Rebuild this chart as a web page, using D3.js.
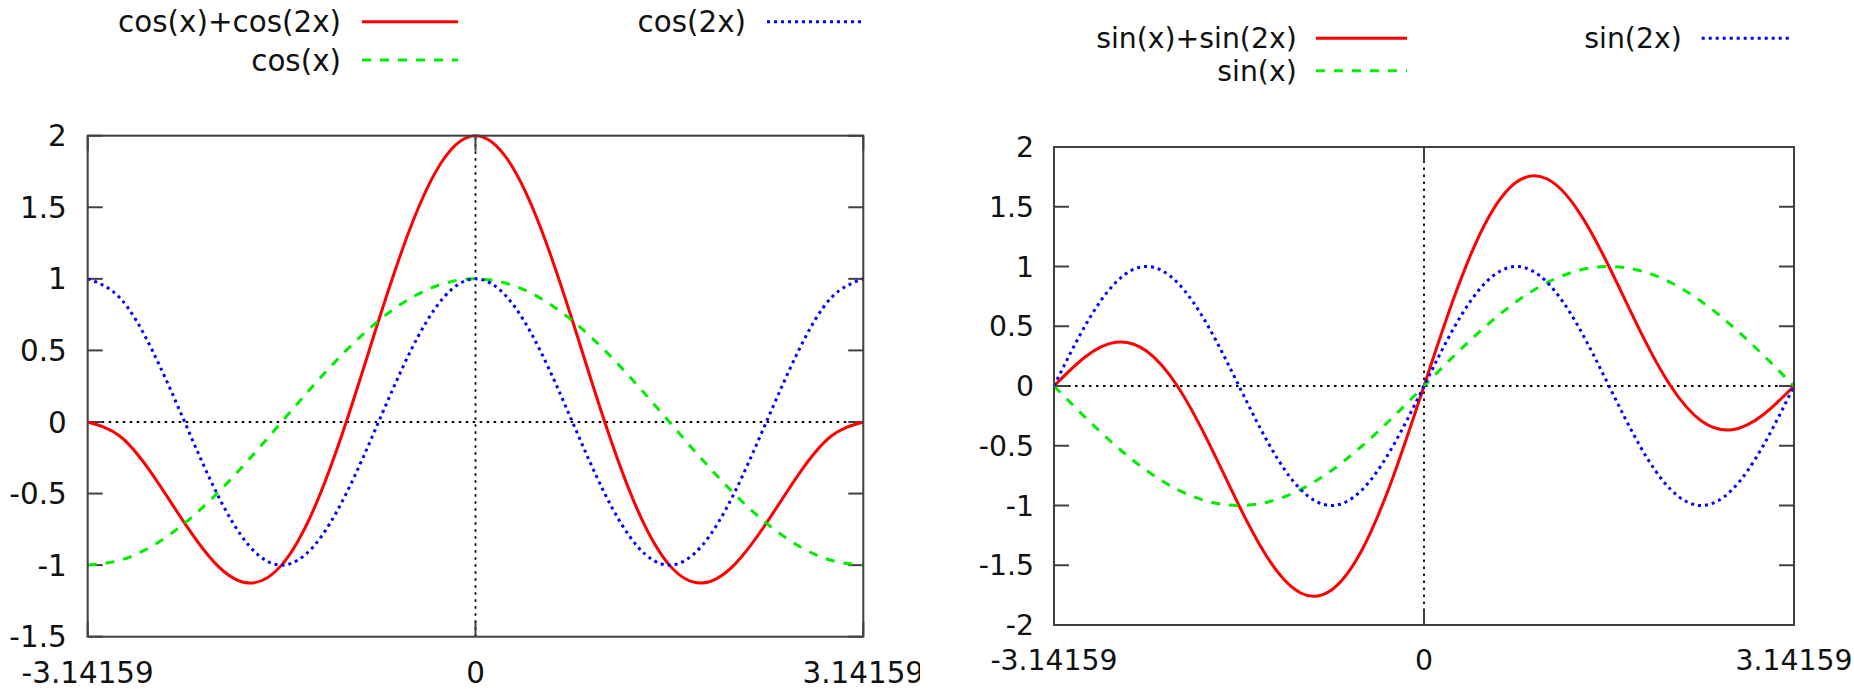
<!DOCTYPE html>
<html>
<head>
<meta charset="utf-8">
<script src="https://cdnjs.cloudflare.com/ajax/libs/d3/7.8.5/d3.min.js"></script>
<style>
body { margin: 0; background: #fff; }
svg { display: block; font-family: "DejaVu Sans", sans-serif; }
.box, .tick-mark { stroke: #404040; stroke-width: 2; fill: none; }
.zero { stroke: #000; stroke-width: 1.8; stroke-dasharray: 2.5,4.5; fill: none; }
.line { fill: none; stroke-width: 3; stroke-linejoin: round; }
.line0 { stroke: #ff0000; }
.line1 { stroke: #00ee00; stroke-dasharray: 9,9; }
.line2 { stroke: #0000ff; stroke-dasharray: 3,4; }
text { fill: #111; }
</style>
</head>
<body>
<svg id="plots" width="1854" height="689"></svg>
<script>
// DATA
// x samples, -pi..pi every 15 degrees
var xs = [-3.14159, -2.87979, -2.61799, -2.35619, -2.0944, -1.8326, -1.5708, -1.309, -1.0472, -0.7854, -0.5236, -0.2618, 0,
          0.2618, 0.5236, 0.7854, 1.0472, 1.309, 1.5708, 1.8326, 2.0944, 2.35619, 2.61799, 2.87979, 3.14159];

var cos_sum = [0, -0.1, -0.366, -0.707, -1, -1.125, -1, -0.607, 0, 0.707, 1.366, 1.832, 2,
               1.832, 1.366, 0.707, 0, -0.607, -1, -1.125, -1, -0.707, -0.366, -0.1, 0];
var cos_1x = [-1, -0.966, -0.866, -0.707, -0.5, -0.259, 0, 0.259, 0.5, 0.707, 0.866, 0.966, 1,
              0.966, 0.866, 0.707, 0.5, 0.259, 0, -0.259, -0.5, -0.707, -0.866, -0.966, -1];
var cos_2x = [1, 0.866, 0.5, 0, -0.5, -0.866, -1, -0.866, -0.5, 0, 0.5, 0.866, 1,
              0.866, 0.5, 0, -0.5, -0.866, -1, -0.866, -0.5, 0, 0.5, 0.866, 1];

var sin_sum = [0, 0.241, 0.366, 0.293, 0, -0.466, -1, -1.466, -1.732, -1.707, -1.366, -0.759, 0,
               0.759, 1.366, 1.707, 1.732, 1.466, 1, 0.466, 0, -0.293, -0.366, -0.241, 0];
var sin_1x = [0, -0.259, -0.5, -0.707, -0.866, -0.966, -1, -0.966, -0.866, -0.707, -0.5, -0.259, 0,
              0.259, 0.5, 0.707, 0.866, 0.966, 1, 0.966, 0.866, 0.707, 0.5, 0.259, 0];
var sin_2x = [0, 0.5, 0.866, 1, 0.866, 0.5, 0, -0.5, -0.866, -1, -0.866, -0.5, 0,
              0.5, 0.866, 1, 0.866, 0.5, 0, -0.5, -0.866, -1, -0.866, -0.5, 0];

var cos_labels = ['cos(x)+cos(2x)', 'cos(x)', 'cos(2x)'];
var sin_labels = ['sin(x)+sin(2x)', 'sin(x)', 'sin(2x)'];

var x_ticks = [-3.14159, 0, 3.14159];
var x_tick_labels = ['-3.14159', '0', '3.14159'];
var cos_y_ticks = [-1.5, -1, -0.5, 0, 0.5, 1, 1.5, 2];
var sin_y_ticks = [-2, -1.5, -1, -0.5, 0, 0.5, 1, 1.5, 2];

// CHART
var chrt = {
    svg: d3.select('svg#plots'),
    build_panel: function(cfg) {
        var svg = this.svg.append('g');
        if ( cfg.clip != null )
        {
            this.svg.append('clipPath').attr('id', cfg.id + '-clip')
                .append('rect').attr('x', 0).attr('y', 0).attr('width', cfg.clip).attr('height', 689);
            svg.attr('clip-path', 'url(#' + cfg.id + '-clip)');
        }
        var x = d3.scaleLinear().domain([-3.14159, 3.14159]).range([cfg.left, cfg.right]);
        var y = d3.scaleLinear().domain(cfg.y_domain).range([cfg.bottom, cfg.top]);
        var tl = 15;

        // zero axes, dotted
        svg.append('line').attr('class', 'zero')
            .attr('x1', x(-3.14159)).attr('x2', x(3.14159)).attr('y1', y(0)).attr('y2', y(0));
        svg.append('line').attr('class', 'zero')
            .attr('x1', x(0)).attr('x2', x(0)).attr('y1', y(cfg.y_domain[0])).attr('y2', y(cfg.y_domain[1]));

        // y ticks on both sides, pointing in
        cfg.y_ticks.forEach(function(t) {
            svg.append('line').attr('class', 'tick-mark')
                .attr('x1', x(-3.14159)).attr('x2', x(-3.14159) + tl).attr('y1', y(t)).attr('y2', y(t));
            svg.append('line').attr('class', 'tick-mark')
                .attr('x1', x(3.14159)).attr('x2', x(3.14159) - tl).attr('y1', y(t)).attr('y2', y(t));
            svg.append('text')
                .attr('x', x(-3.14159) - cfg.y_label_gap).attr('y', y(t)).attr('dy', '0.36em')
                .attr('text-anchor', 'end').style('font-size', cfg.font + 'px')
                .text(t);
        });

        // x ticks top and bottom
        x_ticks.forEach(function(t, i) {
            svg.append('line').attr('class', 'tick-mark')
                .attr('x1', x(t)).attr('x2', x(t)).attr('y1', y(cfg.y_domain[0])).attr('y2', y(cfg.y_domain[0]) - tl);
            svg.append('line').attr('class', 'tick-mark')
                .attr('x1', x(t)).attr('x2', x(t)).attr('y1', y(cfg.y_domain[1])).attr('y2', y(cfg.y_domain[1]) + tl);
            svg.append('text')
                .attr('x', x(t)).attr('y', cfg.x_label_y)
                .attr('text-anchor', 'middle').style('font-size', cfg.font + 'px')
                .text(x_tick_labels[i]);
        });

        var line = d3.line()
            .x(function(d) { return x(d[0]) })
            .y(function(d) { return y(d[1]) })
            .curve(d3.curveNatural);

        cfg.series.forEach(function(s, i) {
            svg.append('path')
                .datum(d3.zip(xs, s))
                .attr('class', 'line line' + i)
                .attr('d', line);
        });

        svg.append('rect').attr('class', 'box')
            .attr('x', cfg.left).attr('y', cfg.top)
            .attr('width', cfg.right - cfg.left).attr('height', cfg.bottom - cfg.top);

        // key, two columns
        var slots = [[0, 0], [0, 1], [1, 0]];
        cfg.labels.forEach(function(lab, i) {
            var col = slots[i][0], row = slots[i][1];
            var ky = cfg.key_rows[row];
            svg.append('text')
                .attr('x', cfg.key_text[col]).attr('y', ky).attr('dy', '0.36em')
                .attr('text-anchor', 'end').style('font-size', cfg.font + 'px')
                .text(lab);
            svg.append('line')
                .attr('class', 'line line' + i)
                .attr('x1', cfg.key_sample[col][0]).attr('x2', cfg.key_sample[col][1])
                .attr('y1', ky).attr('y2', ky);
        });
    },
    init: function() {
        this.build_panel({
            id: 'cos', clip: 920,
            left: 87.7, right: 863.3, top: 135.7, bottom: 636.7,
            y_domain: [-1.5, 2], y_ticks: cos_y_ticks,
            font: 29.4, y_label_gap: 21, x_label_y: 683,
            series: [cos_sum, cos_1x, cos_2x], labels: cos_labels,
            key_rows: [21.7, 60], key_text: [341, 746],
            key_sample: [[362, 458], [767, 862]]
        });
        this.build_panel({
            id: 'sin', clip: null,
            left: 1054, right: 1794, top: 147, bottom: 625,
            y_domain: [-2, 2], y_ticks: sin_y_ticks,
            font: 28.3, y_label_gap: 20, x_label_y: 670,
            series: [sin_sum, sin_1x, sin_2x], labels: sin_labels,
            key_rows: [38.3, 70.7], key_text: [1296.7, 1681.7],
            key_sample: [[1316, 1407], [1701.7, 1792.7]]
        });
    }
}

chrt.init();
</script>
</body>
</html>
